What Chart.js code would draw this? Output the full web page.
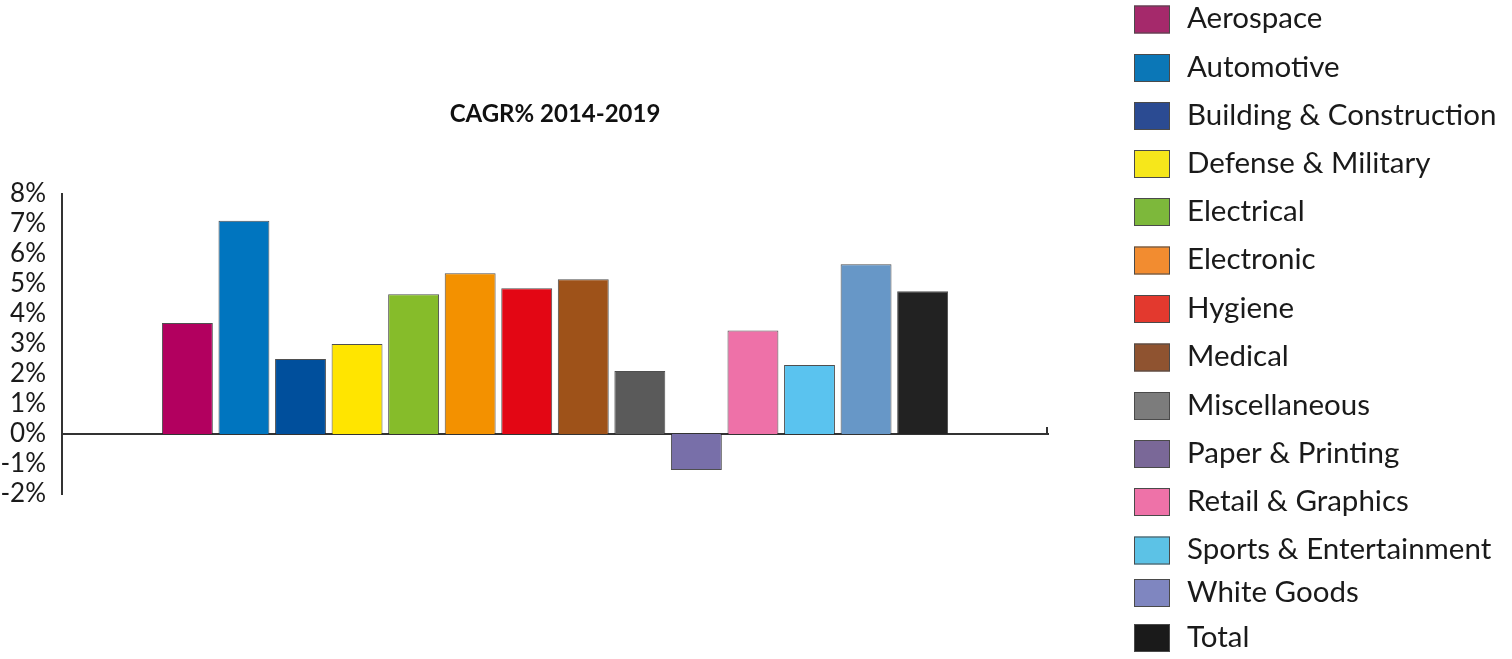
<!DOCTYPE html>
<html><head><meta charset="utf-8">
<script src="https://cdn.jsdelivr.net/npm/chart.js@4.4.1/dist/chart.umd.min.js"></script>
<style>html,body{margin:0;padding:0;background:#fff;overflow:hidden}#wrap{width:1512px;height:659px;position:relative}</style>
</head><body><div id="wrap"><canvas id="c"></canvas></div>
<script>
const categories = ['Aerospace','Automotive','Building & Construction','Defense & Military','Electrical','Electronic','Hygiene','Medical','Miscellaneous','Paper & Printing','Retail & Graphics','Sports & Entertainment','White Goods','Total'];
const cagrValues = [3.7, 7.1, 2.5, 3.0, 4.65, 5.35, 4.85, 5.15, 2.1, -1.2, 3.45, 2.3, 5.65, 4.75];
const yTicks = [-2, -1, 0, 1, 2, 3, 4, 5, 6, 7, 8];
const barColors = ['#B2005F','#0075BF','#004F9C','#FFE500','#86BC2A','#F39100','#E30614','#9E5219','#5A5A5A','#786FA9','#EE71A8','#5AC3EF','#6797C7','#222222'];
const legendColors = ['#A5296B','#0B77B7','#2B4B92','#F6E71B','#7DB83B','#F28C30','#E3392E','#8F5330','#7C7C7C','#7A6898','#EE72A8','#5CC2E6','#7F86C0','#1A1A1A'];
const titleText = 'CAGR% 2014-2019';

const sideLegend = {
  id: 'sideLegend',
  afterDraw(chart, args, o) {
    const ctx = chart.ctx;
    ctx.save();
    ctx.font = o.font;
    ctx.textBaseline = 'middle';
    ctx.textAlign = 'left';
    categories.forEach((name, i) => {
      const cy = o.rows[i];
      ctx.fillStyle = legendColors[i];
      ctx.fillRect(o.boxX, cy - o.boxH / 2, o.boxW, o.boxH);
      ctx.strokeStyle = o.boxBorder; ctx.lineWidth = 1;
      ctx.strokeRect(o.boxX + 0.5, cy - o.boxH / 2 + 0.5, o.boxW - 1, o.boxH - 1);
      ctx.fillStyle = o.color;
      ctx.fillText(name, o.textX, cy + o.textDy);
    });
    const xs = chart.scales.x, ys = chart.scales.y;
    const y0 = ys.getPixelForValue(0);
    ctx.strokeStyle = '#333'; ctx.lineWidth = 2;
    ctx.beginPath(); ctx.moveTo(xs.right - 1, y0); ctx.lineTo(xs.right - 1, y0 - 7); ctx.stroke();
    ctx.restore();
  }
};

new Chart(document.getElementById('c'), {
  type: 'bar',
  data: {
    labels: categories,
    datasets: [{
      label: titleText,
      data: cagrValues.map((v, i) => ({x: i, y: v})),
      backgroundColor: barColors,
      borderColor: 'rgba(35,35,35,0.8)',
      borderWidth: 1,
      barPercentage: 0.9,
      categoryPercentage: 1
    }]
  },
  options: {
    responsive: true,
    maintainAspectRatio: false,
    animation: false,
    layout: { padding: { left: 0, right: 464, top: 0, bottom: 165 } },
    plugins: {
      legend: { display: false },
      tooltip: { enabled: false },
      title: {
        display: true, text: titleText, fullSize: false,
        color: '#111',
        font: { family: 'Lato', size: 24, weight: 'bold', lineHeight: 1.2 },
        padding: { top: 100, bottom: 65 }
      },
      sideLegend: {
        font: '29.5px Lato', color: '#1a1a1a', boxBorder: '#4a4a4a',
        boxX: 1134, boxW: 36, boxH: 28, textX: 1187, textDy: -1,
        rows: [19.5, 68, 116, 164, 212, 260.5, 309, 357.5, 406, 454, 502, 550.5, 593, 638]
      }
    },
    scales: {
      x: {
        type: 'linear', min: -2.217, max: 15.217,
        offset: false,
        position: { y: 0 },
        grid: { display: false, offset: false, drawTicks: false },
        ticks: { display: false },
        border: { display: true, color: '#333', width: 2 }
      },
      y: {
        min: -2, max: 8,
        afterBuildTicks: s => { s.ticks = yTicks.map(v => ({ value: v })); },
        afterFit: s => { s.width = 62; },
        grid: { display: false, drawTicks: false },
        border: { display: true, color: '#333', width: 2 },
        ticks: {
          color: '#1a1a1a', padding: 16, autoSkip: false,
          font: { family: 'Lato', size: 26 },
          callback: v => v + '%'
        }
      }
    }
  },
  plugins: [sideLegend]
});
</script>
</body></html>
